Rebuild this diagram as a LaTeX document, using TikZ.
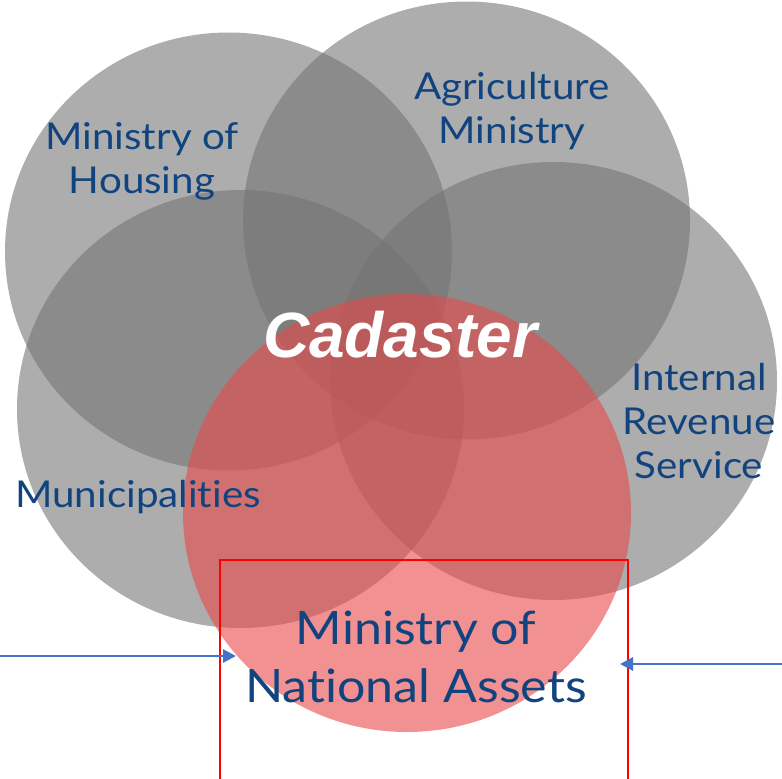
\documentclass[tikz,border=0pt]{standalone}
\usepackage{fontspec}
\setmainfont{Lato}
\newfontfamily\lblfont{Lato}[FakeStretch=1.09,Ligatures=NoCommon]
\newfontfamily\boldsans{Liberation Sans}
\usetikzlibrary{arrows.meta}
\definecolor{circgray}{RGB}{115,115,115}
\definecolor{circred}{RGB}{232,72,72}
\definecolor{labelblue}{RGB}{17,68,127}
\definecolor{arrowblue}{RGB}{68,114,196}

\begin{document}
\begin{tikzpicture}[x=1pt,y=-1pt,
    grayblob/.style={fill=circgray,fill opacity=0.585},
    redblob/.style={fill=circred,fill opacity=0.6},
    lbl/.style={text=labelblue,align=center,anchor=base,inner sep=0pt,font=\lblfont\fontsize{37}{44}\selectfont},
    feed/.style={draw=arrowblue,line width=2.8pt,-{Triangle[length=13pt,width=13pt]}}]
    \useasboundingbox (0,0) rectangle (782,779);
    \clip (0,0) rectangle (782,779);
    % the five circles
    \fill[grayblob] (228.5,251.5) ellipse [x radius=223.5pt,y radius=219pt];
    \fill[grayblob] (466.5,220.5) ellipse [x radius=223.5pt,y radius=219pt];
    \fill[grayblob] (240.5,409) ellipse [x radius=223.5pt,y radius=219pt];
    \fill[grayblob] (553.5,381) ellipse [x radius=223.5pt,y radius=219pt];
    \fill[redblob] (407,513) ellipse [x radius=224pt,y radius=219pt];
    % labels (base = last line)
    \node[lbl] (housing) at (142,193) {Ministry of\\Housing};
    \node[lbl] (agri) at (512,143) {Agriculture\\Ministry};
    \node[lbl] (revenue) at (699,478) {Internal\\Revenue\\Service};
    \node[lbl] (munic) at (138,507) {Municipalities};
    \node[lbl,font=\lblfont\fontsize{46}{58}\selectfont] (assets) at (416,702) {Ministry of\\National Assets};
    \node[text=white,anchor=base,inner sep=0pt,font=\boldsans\fontsize{64}{70}\selectfont\bfseries\itshape] (cadaster) at (400,357) {Cadaster};
    % box and arrows
    \draw[red,line width=2.2pt] (220,560) rectangle (628,800);
    \coordinate (leftend) at (0,656);
    \coordinate (lefttip) at (236,656);
    \coordinate (rightend) at (782,664);
    \coordinate (righttip) at (620,664);
    \draw[feed] (leftend) -- (lefttip);
    \draw[feed] (rightend) -- (righttip);
\end{tikzpicture}
\end{document}
